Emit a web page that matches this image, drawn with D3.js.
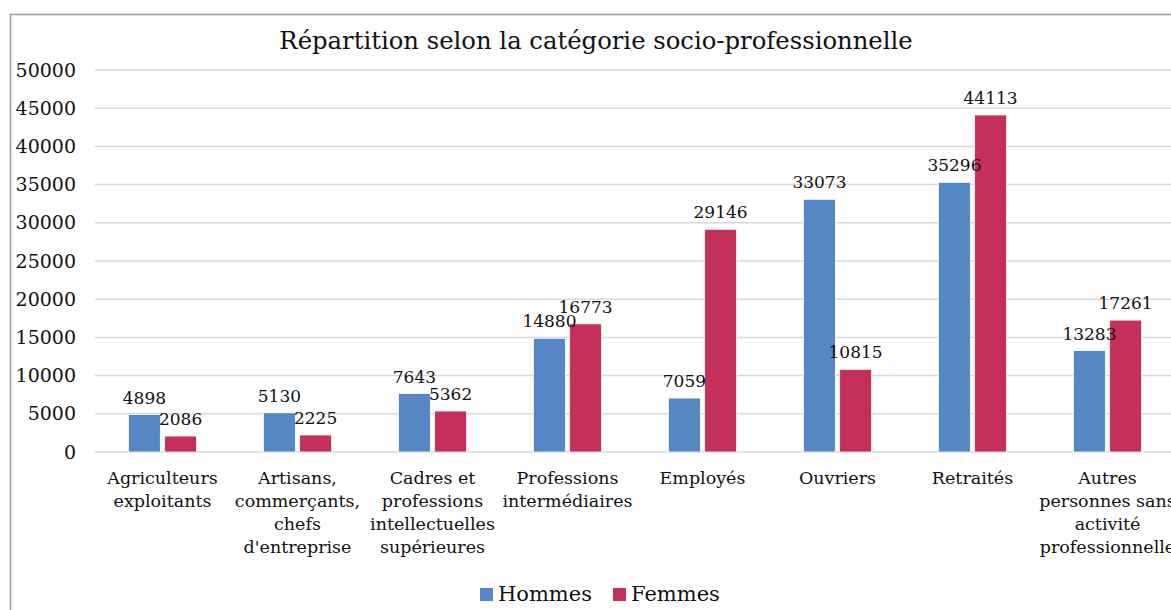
<!DOCTYPE html>
<html>
<head>
<meta charset="utf-8">
<script src="https://cdn.jsdelivr.net/npm/d3@7"></script>
<style>
  body { margin: 0; background: #fff; }
  svg { display: block; font-family: "DejaVu Serif", serif; }
</style>
</head>
<body>
<div id="chart"></div>
<script>
// Répartition selon la catégorie socio-professionnelle
const categories = [
  ["Agriculteurs", "exploitants"],
  ["Artisans,", "commerçants,", "chefs", "d'entreprise"],
  ["Cadres et", "professions", "intellectuelles", "supérieures"],
  ["Professions", "intermédiaires"],
  ["Employés"],
  ["Ouvriers"],
  ["Retraités"],
  ["Autres", "personnes sans", "activité", "professionnelle"]
];
const hommes = [4898, 5130, 7643, 14880, 7059, 33073, 35296, 13283];
const femmes = [2086, 2225, 5362, 16773, 29146, 10815, 44113, 17261];
const seriesNames = ["Hommes", "Femmes"];
const tickValues = [0, 5000, 10000, 15000, 20000, 25000, 30000, 35000, 40000, 45000, 50000];

(function () {
  const W = 1171, H = 610;
  const colors = ["#5586c6", "#c5305b"];
  const svg = d3.select("#chart").append("svg").attr("width", W).attr("height", H);

  // outer frame (right and bottom edges fall outside the window)
  svg.append("rect")
    .attr("x", 10.5).attr("y", 14.5)
    .attr("width", 1200).attr("height", 700)
    .attr("fill", "none").attr("stroke", "#a3968f").attr("stroke-width", 1.5);

  svg.append("text")
    .attr("x", 596).attr("y", 49)
    .attr("text-anchor", "middle")
    .attr("font-size", "24.3px").attr("fill", "#111")
    .text("Répartition selon la catégorie socio-professionnelle");

  const keys = categories.map((c, i) => i);
  const x = d3.scaleBand().domain(keys).range([95, 95 + 8 * 135]).padding(0);
  const y = d3.scaleLinear().domain([0, 50000]).range([452, 70]);
  const xs = d3.scaleBand().domain([0, 1]).range([0, 68]).paddingInner(0.12);

  // gridlines
  svg.append("g")
    .selectAll("line")
    .data(tickValues)
    .join("line")
    .attr("x1", 95).attr("x2", W + 10)
    .attr("y1", d => y(d)).attr("y2", d => y(d))
    .attr("stroke", "#d9d9d9").attr("stroke-width", 1.5);

  // y axis labels
  const yAxis = svg.append("g")
    .attr("transform", "translate(76,0)")
    .call(d3.axisLeft(y).tickValues(tickValues).tickSize(0).tickPadding(0).tickFormat(d => String(d)));
  yAxis.select(".domain").remove();
  yAxis.selectAll("text")
    .attr("font-family", "DejaVu Serif").attr("font-size", "19px").attr("fill", "#111");

  const groups = svg.append("g")
    .selectAll("g")
    .data(keys)
    .join("g")
    .attr("transform", d => `translate(${x(d) + x.bandwidth() / 2 - 34},0)`);

  const vals = [hommes, femmes];
  groups.selectAll("rect")
    .data(i => [0, 1].map(s => ({ s, v: vals[s][i] })))
    .join("rect")
    .attr("x", d => xs(d.s))
    .attr("y", d => y(d.v))
    .attr("width", xs.bandwidth())
    .attr("height", d => y(0) - y(d.v))
    .attr("fill", d => colors[d.s])
    .attr("stroke", "#fff").attr("stroke-width", 0.75);

  groups.selectAll("text.val")
    .data(i => [0, 1].map(s => ({ s, v: vals[s][i] })))
    .join("text")
    .attr("class", "val")
    .attr("x", d => xs(d.s) + xs.bandwidth() / 2)
    .attr("y", d => y(d.v) - 11)
    .attr("text-anchor", "middle")
    .attr("font-size", "17px").attr("fill", "#111")
    .text(d => d.v);

  // category labels
  const xAxis = svg.append("g");
  categories.forEach((lines, i) => {
    const t = xAxis.append("text")
      .attr("x", x(i) + x.bandwidth() / 2)
      .attr("y", 484)
      .attr("text-anchor", "middle")
      .attr("font-size", "17.5px").attr("fill", "#111");
    lines.forEach((ln, j) => {
      t.append("tspan").attr("x", x(i) + x.bandwidth() / 2).attr("dy", j ? 23 : 0).text(ln);
    });
  });

  // legend
  const leg = svg.append("g").attr("transform", "translate(480,588)");
  const legX = [0, 133];
  seriesNames.forEach((name, i) => {
    leg.append("rect").attr("x", legX[i]).attr("y", 0).attr("width", 13).attr("height", 13).attr("fill", colors[i]);
    leg.append("text").attr("x", legX[i] + 18).attr("y", 13)
      .attr("font-size", "21px").attr("fill", "#111").text(name);
  });
})();
</script>
</body>
</html>
